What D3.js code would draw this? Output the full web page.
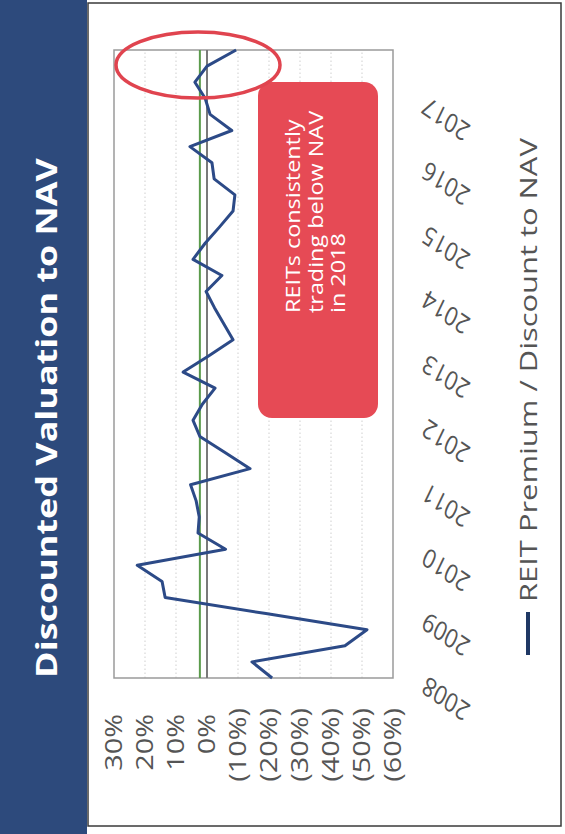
<!DOCTYPE html>
<html>
<head>
<meta charset="utf-8">
<script src="https://cdn.jsdelivr.net/npm/d3@7"></script>
<style>
  html, body { margin: 0; padding: 0; background: #fff; }
  svg { display: block; }
  text { font-family: "Open Sans", "Noto Sans", sans-serif; }
</style>
</head>
<body>
<script>
// ---- data -------------------------------------------------------------
const years = [2008, 2009, 2010, 2011, 2012, 2013, 2014, 2015, 2016, 2017];
const quarters = years.flatMap(y => ["Q1", "Q2", "Q3", "Q4"].map(q => y + " " + q));
// REIT premium (+) / discount (-) to NAV, %, quarterly
const premium = [
  -21, -14.5, -44.5, -51.6,
  -19, 13.5, 14.5, 22.5,
  -6, 2.9, 2.5, 3.5,
  5.3, -13.9, -5.8, 2.3,
  4.5, 1.5, -2.6, 7.7,
  -0.5, -8.4, -5.4, -2.4,
  0.3, -4.8, 4.5, 0.6,
  -4, -8.4, -9, -2.3,
  -1.6, 5.5, -8, -1,
  0.6, 3.9, 0, -9.4
];
const averagePremium = 2.3;
const valueTicks = [30, 20, 10, 0, -10, -20, -30, -40, -50, -60];
const titleText = "Discounted Valuation to NAV";
const seriesName = "REIT Premium / Discount to NAV";
const noteLines = ["REITs consistently", "trading below NAV", "in 2018"];

// ---- layout (chart laid out landscape, then turned a quarter turn) ----
const W = 565, H = 834;
const CW = 834, CH = 565;
const SX = 1.2; // horizontal widening of lettering

const svg = d3.select("body").append("svg")
  .attr("width", W).attr("height", H);
svg.append("rect").attr("width", W).attr("height", H).attr("fill", "#fff");

const g = svg.append("g").attr("transform", `translate(0,${H}) rotate(-90)`);

// title band
g.append("rect").attr("x", 0).attr("y", 0).attr("width", CW).attr("height", 87)
  .attr("fill", "#2d4a7c");
// frame
g.append("rect").attr("x", 8).attr("y", 88).attr("width", 823).attr("height", 473)
  .attr("fill", "#fff").attr("stroke", "#3a3a3a").attr("stroke-width", 1.5);

const title = g.append("text")
  .attr("text-anchor", "middle")
  .attr("font-weight", "bold").attr("font-size", 28).attr("fill", "#fff")
  .text(titleText);
{
  const len = title.node().getComputedTextLength();
  title.attr("transform", `translate(416,57) scale(${520 / len},1)`);
}

// scales
const plot = { left: 156, right: 784, top: 114, bottom: 393 };
const x = d3.scalePoint().domain(quarters).range([plot.left, plot.right]);
const y = d3.scaleLinear().domain([-60, 30]).range([plot.bottom, plot.top]);

// gridlines
g.append("g").selectAll("line")
  .data(valueTicks.filter(v => v !== 30 && v !== -60))
  .join("line")
  .attr("x1", plot.left).attr("x2", plot.right)
  .attr("y1", d => y(d)).attr("y2", d => y(d))
  .attr("stroke", "#cfcfcf").attr("stroke-width", 1)
  .attr("stroke-dasharray", "1.5,2.5");

// plot border
g.append("rect")
  .attr("x", plot.left).attr("y", plot.top)
  .attr("width", plot.right - plot.left).attr("height", plot.bottom - plot.top)
  .attr("fill", "none").attr("stroke", "#9a9a9a").attr("stroke-width", 1.5);

// average and zero lines
g.append("line")
  .attr("x1", plot.left).attr("x2", plot.right)
  .attr("y1", y(averagePremium)).attr("y2", y(averagePremium))
  .attr("stroke", "#5b9b4c").attr("stroke-width", 2);
g.append("line")
  .attr("x1", plot.left).attr("x2", plot.right)
  .attr("y1", y(0)).attr("y2", y(0))
  .attr("stroke", "#7a7a7a").attr("stroke-width", 2);

// series
const line = d3.line()
  .x((d, i) => x(quarters[i]))
  .y(d => y(d));
g.append("path")
  .datum(premium)
  .attr("d", line)
  .attr("fill", "none").attr("stroke", "#2c4a87")
  .attr("stroke-width", 3).attr("stroke-linejoin", "round");

// value axis
const fmt = v => v < 0 ? `(${Math.abs(v)}%)` : `${v}%`;
const yAxis = g.append("g")
  .attr("transform", `translate(${plot.left},0)`)
  .call(d3.axisLeft(y).tickValues(valueTicks).tickSize(0).tickPadding(30).tickFormat(fmt));
yAxis.select(".domain").remove();
yAxis.selectAll("text")
  .attr("font-size", 24).attr("fill", "#555")
  .attr("font-family", "\"Open Sans\", sans-serif")
  .each(function (d) {
    const t = d3.select(this);
    const xx = d < 0 ? -30 : -36;
    t.attr("x", xx / SX).attr("transform", `scale(${SX},1)`);
  });

// category axis
const xAxis = g.append("g")
  .attr("transform", `translate(0,${plot.bottom})`)
  .call(d3.axisBottom(x)
    .tickValues(quarters.filter(q => q.endsWith("Q1")))
    .tickSize(0)
    .tickFormat(q => q.slice(0, 4)));
xAxis.select(".domain").remove();
xAxis.selectAll("text")
  .attr("font-size", 22).attr("fill", "#555")
  .attr("font-family", "\"Open Sans\", sans-serif")
  .attr("text-anchor", "end")
  .attr("x", 0).attr("y", 0).attr("dy", "0.35em")
  .attr("transform", `translate(-6,31) scale(${SX},1) rotate(-60)`);

// legend
g.append("line")
  .attr("x1", 179).attr("x2", 222).attr("y1", 528).attr("y2", 528)
  .attr("stroke", "#1f3864").attr("stroke-width", 4);
const legendText = g.append("text")
  .attr("font-size", 24).attr("fill", "#555")
  .text(seriesName);
{
  const len = legendText.node().getComputedTextLength();
  legendText.attr("transform", `translate(232,537) scale(${464 / len},1)`);
}

// callout box
g.append("rect")
  .attr("x", 416).attr("y", 258).attr("width", 336).attr("height", 120)
  .attr("rx", 14).attr("fill", "#e64a55");
noteLines.forEach((s, i) => {
  g.append("text")
    .attr("font-size", 19.5).attr("fill", "#fff")
    .attr("transform", `translate(521,${300 + i * 22.5}) scale(${SX},1)`)
    .text(s);
});

// highlight ring around the latest quarters
g.append("ellipse")
  .attr("cx", 769).attr("cy", 198).attr("rx", 33).attr("ry", 82)
  .attr("fill", "none").attr("stroke", "#e0444f").attr("stroke-width", 3.5);
</script>
</body>
</html>
